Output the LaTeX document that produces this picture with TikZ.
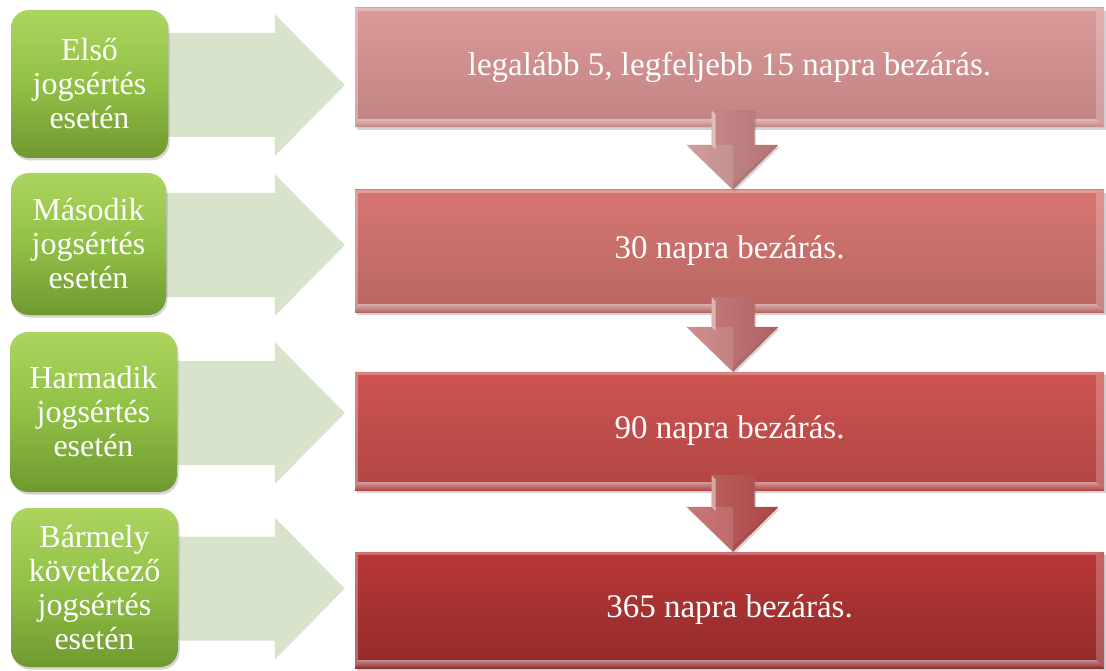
\documentclass[tikz,border=0pt]{standalone}
\usepackage{fontspec}
\setmainfont{Liberation Serif}
\usetikzlibrary{shadows,calc}
\definecolor{gtop}{HTML}{ACD55F}
\definecolor{gmid}{HTML}{91C046}
\definecolor{gbot}{HTML}{6F992F}
\definecolor{larrc}{HTML}{D8E3CB}
\definecolor{rat}{HTML}{DB9A9A}\definecolor{rab}{HTML}{C18282}
\definecolor{rbt}{HTML}{D67672}\definecolor{rbb}{HTML}{B86663}
\definecolor{rct}{HTML}{CE5451}\definecolor{rcb}{HTML}{B04545}
\definecolor{rdt}{HTML}{B93737}\definecolor{rdb}{HTML}{922A2A}
\definecolor{da}{HTML}{C17C7C}
\definecolor{db}{HTML}{BE6A6A}
\definecolor{dc}{HTML}{B74C4C}
\tikzset{
  gbox/.style={rounded corners=18pt, draw=none, text=white, align=center, inner sep=0pt,
    font=\fontsize{32}{34}\selectfont, top color=gtop, bottom color=gbot, middle color=gmid,
    drop shadow={opacity=0.35, shadow xshift=1.5pt, shadow yshift=-2.5pt}},
  rbox/.style={draw=none, text=white, inner sep=0pt, minimum width=749pt,
    font=\fontsize{33}{35}\selectfont,
    drop shadow={opacity=0.35, shadow xshift=1.5pt, shadow yshift=-3pt}},
  larr/.style={fill=larrc},
  darr/.style={left color=#1!85!white, middle color=#1, right color=#1!92!black,
    drop shadow={opacity=0.3, shadow xshift=1.5pt, shadow yshift=-2pt}},
}
\newcommand\rbev[3]{%
  \shade[top color=#2!55!white, bottom color=#2] (#1.south west) -- (#1.south east) -- ($(#1.south east)+(-8,-8)$) -- ($(#1.south west)+(3,-8)$) -- cycle;
  \fill[white, opacity=.22] (#1.south east) -- (#1.north east) -- ($(#1.north east)+(-8,3)$) -- ($(#1.south east)+(-8,-8)$) -- cycle;
  \fill[#3!60!white, opacity=.7] (#1.north west) -- (#1.north east) -- ($(#1.north east)+(-8,3)$) -- ($(#1.north west)+(3,3)$) -- cycle;
  \fill[white, opacity=.3] (#1.north west) -- ($(#1.north west)+(3,3)$) -- ($(#1.south west)+(3,-8)$) -- (#1.south west) -- cycle;
}
\newcommand\downarr[4]{% from, to, color, shaft offset
  \shade[darr=#3] ($(#1.south)+(-18,#4)$) -- ($(#1.south)+(25,#4)$) -- ($(#2.north)+(25,-45)$) -- ($(#2.north)+(49,-45)$)
     -- ($(#2.north)+(3.5,0)$) -- ($(#2.north)+(-43,-45)$) -- ($(#2.north)+(-18,-45)$) -- cycle;
  \fill[white, opacity=.45] ($(#1.south)+(-18,#4)$) -- ($(#1.south)+(-14,#4+4)$) -- ($(#2.north)+(-14,-41)$) -- ($(#2.north)+(-18,-45)$) -- cycle;
  \fill[white, opacity=.12] ($(#2.north)+(-43,-45)$) -- ($(#2.north)+(3.5,-45)$) -- ($(#2.north)+(3.5,0)$) -- cycle;
  \fill[black, opacity=.06] ($(#2.north)+(3.5,-6)$) -- ($(#2.north)+(49,-45)$) -- ($(#2.north)+(3.5,0)$) -- cycle;
}
\newcommand\rarr[2]{% green box centre, red box
  \fill[larr] let \p1=(#1), \p2=(#2.west) in
    (\x1+40pt,\y1+51pt) -- (\x2-80pt,\y1+51pt) -- (\x2-80pt,\y1+70pt) -- (\x2-10pt,\y1-1pt)
    -- (\x2-80pt,\y1-72pt) -- (\x2-80pt,\y1-53pt) -- (\x1+40pt,\y1-53pt) -- cycle;
}
\begin{document}
\begin{tikzpicture}[x=1pt,y=-1pt]
\useasboundingbox (0,0) rectangle (1106,671);
% red boxes
\node[rbox, top color=rat, bottom color=rab, minimum height=119pt] (r1) at (729.5,67.5) {legalább 5, legfeljebb 15 napra bezárás.};
\node[rbox, top color=rbt, bottom color=rbb, minimum height=122pt] (r2) at (729.5,251) {30 napra bezárás.};
\node[rbox, top color=rct, bottom color=rcb, minimum height=118pt] (r3) at (729.5,431) {90 napra bezárás.};
\node[rbox, top color=rdt, bottom color=rdb, minimum height=116pt] (r4) at (729.5,610) {365 napra bezárás.};
\rbev{r1}{rab}{rat}
\rbev{r2}{rbb}{rbt}
\rbev{r3}{rcb}{rct}
\rbev{r4}{rdb}{rdt}
% green box positions
\path (89.5,84) coordinate (c1) (88.5,244) coordinate (c2) (93.5,412) coordinate (c3) (94.5,587.5) coordinate (c4);
% light arrows
\rarr{c1}{r1}
\rarr{c2}{r2}
\rarr{c3}{r3}
\rarr{c4}{r4}
\node[gbox, minimum width=157pt, minimum height=148pt] (g1) at (c1) {Első\\jogsértés\\esetén};
\node[gbox, minimum width=155pt, minimum height=142pt] (g2) at (c2) {Második\\jogsértés\\esetén};
\node[gbox, minimum width=167pt, minimum height=160pt] (g3) at (c3) {Harmadik\\jogsértés\\esetén};
\node[gbox, minimum width=167pt, minimum height=159pt] (g4) at (c4) {Bármely\\következő\\jogsértés\\esetén};
% down arrows
\downarr{r1}{r2}{da}{-17}
\downarr{r2}{r3}{db}{-15}
\downarr{r3}{r4}{dc}{-15}
\end{tikzpicture}
\end{document}
